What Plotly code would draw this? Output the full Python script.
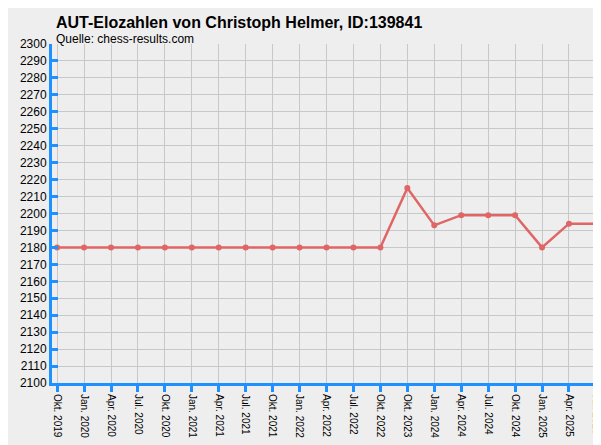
import plotly.graph_objects as go

labels = ["Okt. 2019","Jan. 2020","Apr. 2020","Jul. 2020","Okt. 2020","Jan. 2021","Apr. 2021",
          "Jul. 2021","Okt. 2021","Jan. 2022","Apr. 2022","Jul. 2022","Okt. 2022","Okt. 2023",
          "Jan. 2024","Apr. 2024","Jul. 2024","Okt. 2024","Jan. 2025","Apr. 2025","Jul. 2025"]
elo = [2180,2180,2180,2180,2180,2180,2180,2180,2180,2180,2180,2180,2180,2215,
       2193,2199,2199,2199,2180,2194,2194]
xs = list(range(len(labels)))

fig = go.Figure(go.Scatter(x=xs, y=elo, mode="lines+markers",
    line=dict(color="#e06666", width=2.5), marker=dict(color="#e06666", size=6)))
fig.update_layout(width=601, height=445, margin=dict(l=44, r=5, t=36, b=70, autoexpand=False),
    paper_bgcolor="#eeeeee", plot_bgcolor="#eeeeee", showlegend=False,
    font=dict(family="Liberation Sans, Arial", color="#000"),
    annotations=[
        dict(text="<b>AUT-Elozahlen von Christoph Helmer, ID:139841</b>", x=47, y=445-3,
             xref="x domain", yref="paper", showarrow=False, font=dict(size=16)),
    ])
fig.layout.annotations = []
fig.add_annotation(text="<b>AUT-Elozahlen von Christoph Helmer, ID:139841</b>", xref="paper", yref="paper",
    x=-0.0, y=1.0, yshift=32, xshift=2, xanchor="left", yanchor="top", showarrow=False, font=dict(size=16))
fig.add_annotation(text="Quelle: chess-results.com", xref="paper", yref="paper",
    x=-0.0, y=1.0, yshift=14, xshift=2, xanchor="left", yanchor="top", showarrow=False, font=dict(size=12))
fig.update_xaxes(range=[-0.19, 20.3], tickvals=xs, ticktext=labels, tickangle=90, automargin=False,
    tickfont=dict(size=10), showgrid=True, gridcolor="#c8c8c8", showline=True,
    linecolor="#1e90ff", linewidth=3, ticks="outside", tickcolor="#1e90ff", ticklen=6, tickwidth=3, zeroline=False)
fig.update_yaxes(range=[2100, 2300], dtick=10, tickfont=dict(size=12), showgrid=True, automargin=False,
    gridcolor="#c8c8c8", showline=True, linecolor="#1e90ff", linewidth=3,
    ticks="inside", tickcolor="#1e90ff", ticklen=6, tickwidth=3, zeroline=False)
fig.write_html("out.html")
